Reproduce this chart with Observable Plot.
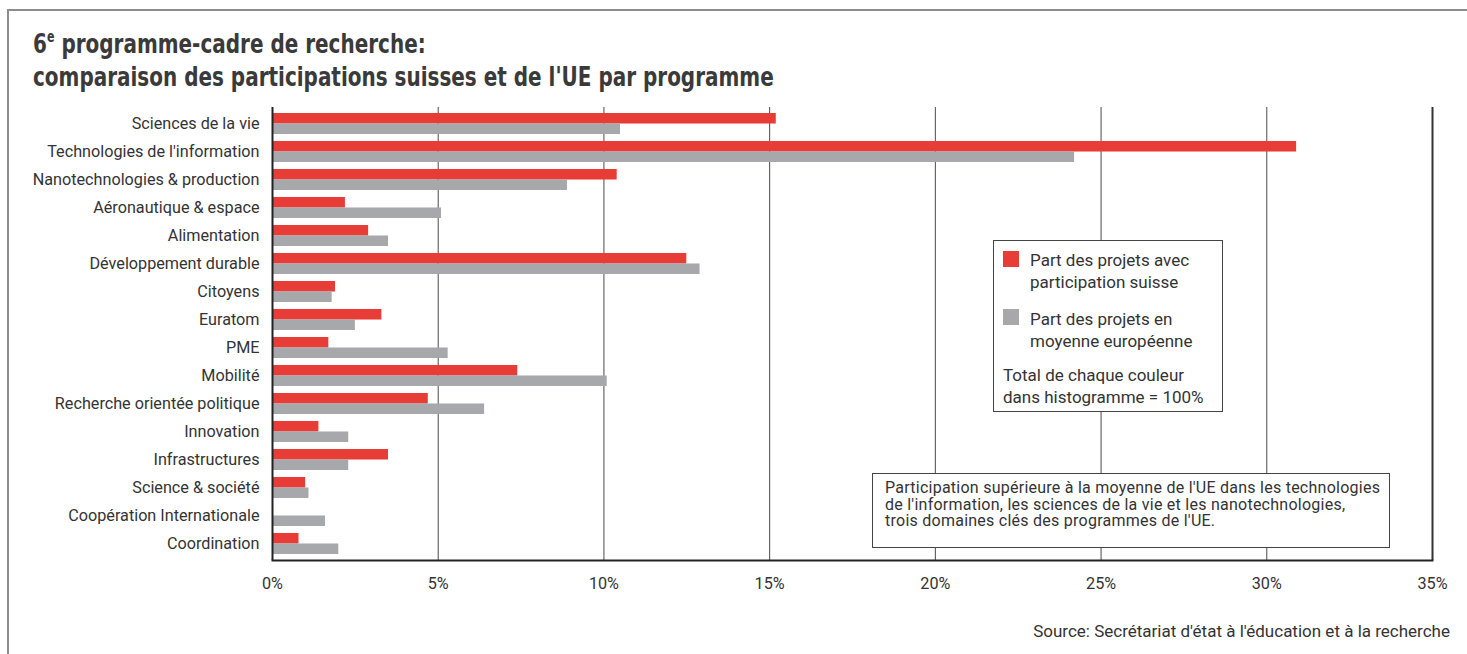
<!DOCTYPE html>
<html>
<head>
<meta charset="utf-8">
<script src="https://cdn.jsdelivr.net/npm/d3@7"></script>
<script src="https://cdn.jsdelivr.net/npm/@observablehq/plot@0.6"></script>
<style>
  html, body { margin: 0; padding: 0; background: #fff; }
  #wrap { position: relative; width: 1467px; height: 654px; overflow: hidden; font-family: Roboto, "Liberation Sans", sans-serif; color: #333; }
  #frame { position: absolute; left: 7px; top: 9px; width: 1470px; height: 660px; border-top: 2px solid #8c8c8c; border-left: 2px solid #8c8c8c; }
  #title { position: absolute; left: 33px; top: 27px; font-family: "DejaVu Sans", "Liberation Sans", sans-serif; font-weight: 700; font-size: 27px; line-height: 33px; color: #3a3a3a; white-space: nowrap; transform: scaleX(0.74); transform-origin: 0 0; }
  #title sup { font-size: 15px; vertical-align: 11px; line-height: 0; }
  #chart { position: absolute; left: 0; top: 100px; }
  .box { position: absolute; background: #fff; border: 1px solid #444; box-sizing: border-box; }
  .t { position: absolute; font-size: 17px; line-height: 22px; white-space: nowrap; color: #333; }
  .sw { position: absolute; width: 16px; height: 16px; }
  #source { position: absolute; right: 17px; top: 621px; font-size: 17px; color: #333; white-space: nowrap; }
</style>
</head>
<body>
<div id="wrap">
  <div id="frame"></div>
  <div id="title">6<sup>e</sup> programme-cadre de recherche:<br>comparaison des participations suisses et de l'UE par programme</div>
  <div id="chart"></div>
  <div class="box" style="left:993px; top:240px; width:230px; height:172px;"></div>
  <div class="sw" style="left:1003px; top:251px; background:#e83c36;"></div>
  <div class="t" style="left:1030px; top:249px;">Part des projets avec<br>participation suisse</div>
  <div class="sw" style="left:1003px; top:309px; background:#a7a8ab;"></div>
  <div class="t" style="left:1030px; top:308px;">Part des projets en<br>moyenne européenne</div>
  <div class="t" style="left:1003px; top:364px;">Total de chaque couleur<br>dans histogramme = 100%</div>
  <div class="box" style="left:872px; top:473px; width:518px; height:75px;"></div>
  <div class="t" style="left:885px; top:480px; font-size:16px; line-height:16.5px; letter-spacing:0.25px;">Participation supérieure à la moyenne de l'UE dans les technologies<br>de l'information, les sciences de la vie et les nanotechnologies,<br>trois domaines clés des programmes de l'UE.</div>
  <div id="source">Source: Secrétariat d'état à l'éducation et à la recherche</div>
</div>
<script>
const categories = [
  "Sciences de la vie",
  "Technologies de l'information",
  "Nanotechnologies & production",
  "Aéronautique & espace",
  "Alimentation",
  "Développement durable",
  "Citoyens",
  "Euratom",
  "PME",
  "Mobilité",
  "Recherche orientée politique",
  "Innovation",
  "Infrastructures",
  "Science & société",
  "Coopération Internationale",
  "Coordination"
];
const suisse = [15.2, 30.9, 10.4, 2.2, 2.9, 12.5, 1.9, 3.3, 1.7, 7.4, 4.7, 1.4, 3.5, 1.0, 0, 0.8];
const ue     = [10.5, 24.2, 8.9, 5.1, 3.5, 12.9, 1.8, 2.5, 5.3, 10.1, 6.4, 2.3, 2.3, 1.1, 1.6, 2.0];
const xTicks = [0, 5, 10, 15, 20, 25, 30, 35];

const rows = categories.map((c, i) => ({programme: c, suisse: suisse[i], ue: ue[i]}));

const H = 510, mTop = 7, mBottom = 50;
const step = (H - mTop - mBottom) / categories.length;
const half = step * 0.74 / 2;

const chart = Plot.plot({
  width: 1467,
  height: H,
  marginLeft: 272,
  marginRight: 35,
  marginTop: mTop,
  marginBottom: mBottom,
  style: {fontFamily: "Roboto, 'Liberation Sans', sans-serif", fontSize: "16.2px", color: "#333", background: "transparent"},
  x: {domain: [0, 35], ticks: xTicks, tickFormat: d => d + "%", tickSize: 0, tickPadding: 17, label: null},
  y: {domain: categories, paddingInner: 0.26, paddingOuter: 0.13, tickSize: 0, tickPadding: 13, label: null},
  marks: [
    Plot.ruleX(xTicks.slice(1, -1), {stroke: "#4a4a4a", strokeWidth: 1}),
    Plot.barX(rows, {y: "programme", x: "suisse", fill: "#e83c36", insetBottom: half}),
    Plot.barX(rows, {y: "programme", x: "ue", fill: "#a7a8ab", insetTop: half}),
    Plot.ruleX([0], {stroke: "#222", strokeWidth: 2}),
    Plot.ruleX([35], {stroke: "#333", strokeWidth: 2}),
    Plot.frame({anchor: "bottom", stroke: "#222", strokeWidth: 2})
  ]
});
document.getElementById("chart").appendChild(chart);
</script>
</body>
</html>
